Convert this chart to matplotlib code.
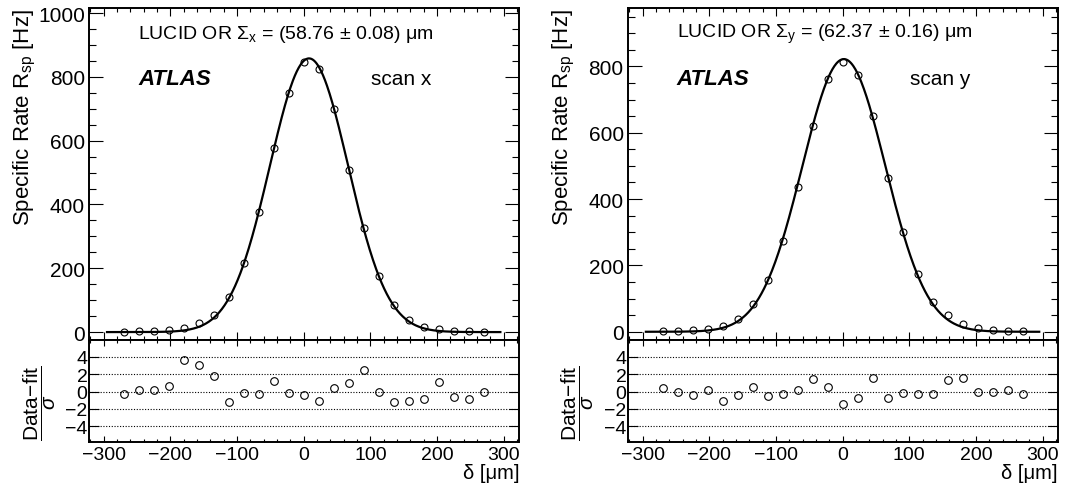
import numpy as np
import matplotlib
matplotlib.use('Agg')
import matplotlib.pyplot as plt
from matplotlib.ticker import MultipleLocator

plt.rcParams['font.family'] = ['Liberation Sans', 'DejaVu Sans']
plt.rcParams['mathtext.fontset'] = 'custom'
plt.rcParams['mathtext.rm'] = 'Liberation Sans'
plt.rcParams['mathtext.it'] = 'Liberation Sans:italic'
plt.rcParams['mathtext.bf'] = 'Liberation Sans:bold'

# scan positions [um]
delta = [-270, -247.5, -225, -202.5, -180, -157.5, -135, -112.5, -90, -67.5, -45, -22.5, 0,
         22.5, 45, 67.5, 90, 112.5, 135, 157.5, 180, 202.5, 225, 247.5, 270]

# scan x
rate_x = [1, 2, 3, 6, 12, 27, 54, 109, 215, 375, 578, 749, 847,
          824, 698, 509, 325, 175, 85, 38, 17, 9, 4, 2, 1]
pull_x = [-0.30, 0.15, 0.23, 0.65, 3.65, 3.0, 1.73, -1.23, -0.15, -0.27, 1.23, -0.19, -0.42,
          -1.04, 0.35, 0.96, 2.42, -0.04, -1.15, -1.04, -0.81, 1.08, -0.65, -0.85, -0.04]

# scan y
rate_y = [2, 3, 5, 9, 18, 40, 83, 155, 273, 435, 619, 762, 814,
          774, 650, 463, 300, 174, 91, 50, 24, 10, 6, 2, 1]
pull_y = [0.38, -0.08, -0.38, 0.12, -1.04, -0.35, 0.50, -0.54, -0.27, 0.12, 1.42, 0.50, -1.46,
          -0.73, 1.54, -0.69, -0.12, -0.31, -0.31, 1.35, 1.54, -0.08, -0.08, 0.23, -0.23]

# fit results: peak [Hz], mean [um], Sigma [um]
fit_x = [858, 8.0, 58.76]
fit_y = [822, 2.0, 62.37]

fig = plt.figure(figsize=(10.66, 4.89), dpi=100)


def style(ax, xmaj, xmin, ymaj, ymin, xlen, ylen):
    ax.tick_params(which='both', direction='in', top=True, right=True, width=0.8, colors='black')
    ax.tick_params(axis='x', which='major', length=xlen)
    ax.tick_params(axis='x', which='minor', length=xlen / 2)
    ax.tick_params(axis='y', which='major', length=ylen)
    ax.tick_params(axis='y', which='minor', length=ylen / 2)
    ax.xaxis.set_major_locator(MultipleLocator(xmaj))
    ax.xaxis.set_minor_locator(MultipleLocator(xmin))
    ax.yaxis.set_major_locator(MultipleLocator(ymaj))
    if ymin:
        ax.yaxis.set_minor_locator(MultipleLocator(ymin))
    for s in ax.spines.values():
        s.set_linewidth(1.4)


def panel(x0, rate, pull, fit, ytop, sig_txt, scan_txt):
    ax = fig.add_axes([x0, 0.3032, 0.4034, 0.6784])
    ax2 = fig.add_axes([x0, 0.0941, 0.4034, 0.2091])

    xf = np.linspace(-295, 295, 600)
    yf = fit[0] * np.exp(-0.5 * ((xf - fit[1]) / fit[2]) ** 2)
    ax.plot(xf, yf, color='black', lw=1.6)
    ax.plot(delta, rate, 'o', mfc='none', mec='black', ms=5, mew=0.8)
    ax.set_xlim(-322, 323)
    ax.set_ylim(-24, ytop)
    style(ax, 100, 20, 200, 50, 6, 10)
    ax.tick_params(axis='x', labelbottom=False)
    ax.tick_params(axis='y', labelsize=15, pad=3)
    ax.set_ylabel('Specific Rate R$_{\\mathregular{sp}}$ [Hz]', fontsize=16, loc='top')
    ax.yaxis.set_label_coords(-0.118, 1.0)

    ax.text(0.114, 0.922, sig_txt, transform=ax.transAxes, fontsize=14, va='center')
    ax.text(0.114, 0.786, 'ATLAS', transform=ax.transAxes, fontsize=16,
            fontweight='bold', fontstyle='italic', va='center')
    ax.text(0.655, 0.786, scan_txt, transform=ax.transAxes, fontsize=15, va='center')

    for g in [-4, -2, 0, 2, 4]:
        ax2.axhline(g, color='black', lw=0.8, ls=(0, (1, 1.5)))
    ax2.plot(delta, pull, 'o', mfc='none', mec='black', ms=5.5, mew=0.8)
    ax2.set_xlim(-322, 323)
    ax2.set_ylim(-5.8, 5.95)
    style(ax2, 100, 20, 2, None, 4, 7)
    ax2.tick_params(axis='x', labelsize=14, pad=3)
    ax2.tick_params(axis='y', labelsize=14, pad=1)
    ax2.set_ylabel(r'$\dfrac{\mathregular{Data\!-\!fit}}{\sigma}$', fontsize=15)
    ax2.yaxis.set_label_coords(-0.073, 0.39)
    ax2.set_xlabel('δ [μm]', fontsize=14.5, loc='right', labelpad=0)
    return ax, ax2


panel(0.0835, rate_x, pull_x, fit_x, 1016,
      'LUCID OR Σ$_{\\mathregular{x}}$ = (58.76 ± 0.08) μm', 'scan x')
panel(0.589, rate_y, pull_y, fit_y, 976,
      'LUCID OR Σ$_{\\mathregular{y}}$ = (62.37 ± 0.16) μm', 'scan y')

fig.savefig('out.png', dpi=100)
